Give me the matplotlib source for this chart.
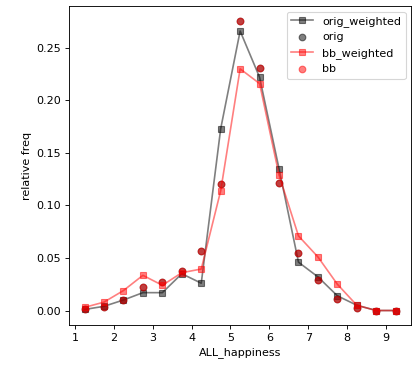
import matplotlib
matplotlib.use("Agg")
import matplotlib.pyplot as plt
import numpy as np

bins = [1.25, 1.75, 2.25, 2.75, 3.25, 3.75, 4.25, 4.75, 5.25,
        5.75, 6.25, 6.75, 7.25, 7.75, 8.25, 8.75, 9.25]

orig_weighted = [0.001, 0.004, 0.010, 0.017, 0.017, 0.035, 0.026, 0.173, 0.266,
                 0.222, 0.135, 0.046, 0.032, 0.014, 0.005, 0.0, 0.0]
orig = [0.001, 0.003, 0.010, 0.022, 0.027, 0.038, 0.057, 0.120, 0.276,
        0.231, 0.121, 0.055, 0.029, 0.011, 0.0025, 0.0, 0.0]
bb_weighted = [0.003, 0.008, 0.019, 0.0335, 0.024, 0.036, 0.0395, 0.114, 0.230,
               0.216, 0.129, 0.071, 0.051, 0.025, 0.005, 0.0, 0.0]
bb = [0.001, 0.003, 0.010, 0.022, 0.027, 0.038, 0.057, 0.120, 0.276,
      0.231, 0.121, 0.055, 0.029, 0.011, 0.0025, 0.0, 0.0]

xticks = [1, 2, 3, 4, 5, 6, 7, 8, 9]

# reference looks like an 80 dpi render
fig = plt.figure(figsize=(415 / 80, 369 / 80), dpi=80)
ax = fig.add_subplot(111)

ax.plot(bins, orig_weighted, "s-", color="black", alpha=0.5, label="orig_weighted")
ax.plot(bins, orig, "o", color="black", alpha=0.5, label="orig")
ax.plot(bins, bb_weighted, "s-", color="red", alpha=0.5, label="bb_weighted")
ax.plot(bins, bb, "o", color="red", alpha=0.5, label="bb")

ax.set_xticks(xticks)
ax.set_xlabel("ALL_happiness")
ax.set_ylabel("relative freq")
ax.legend(loc="upper right")

fig.subplots_adjust(left=0.1663, right=0.991, bottom=0.1192, top=0.9837)
fig.savefig("out.png", dpi=80)
